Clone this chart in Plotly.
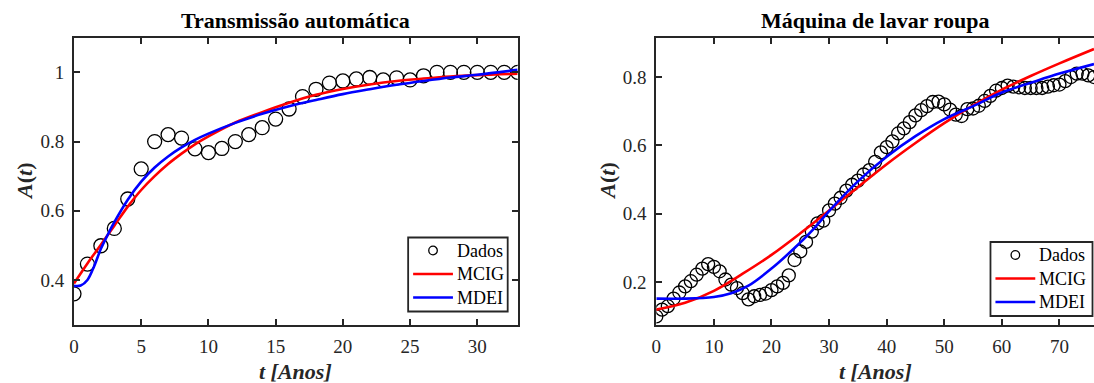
import plotly.graph_objects as go

# ---------------- Data: Transmissão automática ----------------
t_left = list(range(0, 34))
dados_left = [0.360, 0.446, 0.499, 0.549, 0.634, 0.721, 0.800, 0.820, 0.810, 0.779,
              0.768, 0.780, 0.800, 0.820, 0.840, 0.865, 0.894, 0.930, 0.951, 0.969,
              0.975, 0.981, 0.985, 0.978, 0.984, 0.978, 0.990, 1.000, 1.000, 1.000,
              1.000, 1.000, 1.000, 1.000]
t_mcig_left = [0, 1, 2, 3, 4, 5, 6, 7, 8, 9, 10, 12, 14, 16, 18, 20, 22, 24, 26, 28, 30, 33]
mcig_left = [0.390, 0.448, 0.502, 0.557, 0.612, 0.660, 0.700, 0.735, 0.765, 0.792, 0.815,
             0.855, 0.885, 0.912, 0.935, 0.952, 0.965, 0.975, 0.982, 0.988, 0.992, 0.996]
t_mdei_left = [0, 0.5, 1, 1.5, 2, 2.5, 3, 4, 5, 6, 7, 8, 9, 10, 12, 14, 16, 18, 20, 22, 24,
               26, 28, 30, 33]
mdei_left = [0.383, 0.384, 0.400, 0.440, 0.490, 0.530, 0.567, 0.632, 0.684, 0.725, 0.757,
             0.783, 0.805, 0.823, 0.854, 0.880, 0.902, 0.920, 0.937, 0.951, 0.964, 0.975,
             0.985, 0.993, 1.007]

# ---------------- Data: Máquina de lavar roupa ----------------
t_right = list(range(0, 77))
dados_right = [0.100, 0.120, 0.130, 0.152, 0.170, 0.188, 0.203, 0.222, 0.240, 0.253,
               0.245, 0.232, 0.208, 0.193, 0.183, 0.168, 0.150, 0.159, 0.163, 0.167,
               0.177, 0.188, 0.198, 0.220, 0.265, 0.290, 0.318, 0.348, 0.372, 0.380,
               0.410, 0.430, 0.447, 0.468, 0.485, 0.497, 0.515, 0.528, 0.552, 0.580,
               0.595, 0.612, 0.635, 0.650, 0.668, 0.688, 0.703, 0.715, 0.727, 0.728,
               0.720, 0.705, 0.690, 0.686, 0.706, 0.708, 0.716, 0.730, 0.745, 0.760,
               0.768, 0.775, 0.772, 0.770, 0.768, 0.768, 0.768, 0.768, 0.772, 0.776,
               0.778, 0.788, 0.800, 0.810, 0.810, 0.805, 0.800]
t_mcig_right = [0, 5, 10, 15, 20, 25, 30, 35, 40, 45, 50, 55, 60, 65, 70, 76]
mcig_right = [0.120, 0.140, 0.175, 0.225, 0.280, 0.343, 0.410, 0.478, 0.545, 0.607,
              0.665, 0.717, 0.763, 0.803, 0.840, 0.882]
t_mdei_right = [0, 5, 10, 13, 16, 20, 24, 27, 30, 35, 40, 45, 50, 55, 60, 65, 70, 76]
mdei_right = [0.152, 0.152, 0.157, 0.168, 0.190, 0.240, 0.300, 0.350, 0.408, 0.495,
              0.567, 0.627, 0.677, 0.715, 0.755, 0.783, 0.810, 0.838]

legend_labels = ["Dados", "MCIG", "MDEI"]
fit_colors = ["#FF0000", "#0000FF"]

OFF = 0  # body margin removed below
W, H = 1094, 383
FONT = "Liberation Serif"
AX = "#262626"


def px(x):
    return (x - OFF) / W


def py(y):
    return 1 - (y - OFF) / H


fig = go.Figure()


def add_panel(xa, ya, t, d, tm, m, tb, b, msize):
    fig.add_trace(go.Scatter(x=t, y=d, mode="markers", xaxis=xa, yaxis=ya,
                             name=legend_labels[0], showlegend=False,
                             marker=dict(symbol="circle-open", size=msize, color="black",
                                         line=dict(width=1.3, color="black"))))
    fig.add_trace(go.Scatter(x=tm, y=m, mode="lines", xaxis=xa, yaxis=ya,
                             name=legend_labels[1], showlegend=False,
                             line=dict(color=fit_colors[0], width=2.6, shape="spline")))
    fig.add_trace(go.Scatter(x=tb, y=b, mode="lines", xaxis=xa, yaxis=ya,
                             name=legend_labels[2], showlegend=False,
                             line=dict(color=fit_colors[1], width=2.6, shape="spline")))


add_panel("x", "y", t_left, dados_left, t_mcig_left, mcig_left,
          t_mdei_left, mdei_left, 14)
add_panel("x2", "y2", t_right, dados_right, t_mcig_right, mcig_right,
          t_mdei_right, mdei_right, 13)

ydom = [py(325), py(37.7)]
xdom1 = [px(69.3), px(515)]
xdom2 = [px(654.3), 1.0]

common = dict(showline=True, linecolor=AX, linewidth=1.8, ticks="inside", ticklen=6,
              tickwidth=1.5, tickcolor=AX, showgrid=False, zeroline=False,
              tickfont=dict(family=FONT, size=19, color=AX))

fig.update_layout(
    width=W, height=H, margin=dict(l=0, r=0, t=0, b=0), showlegend=False,
    paper_bgcolor="white", plot_bgcolor="white",
    xaxis=dict(domain=xdom1, range=[0, 33], tickvals=[0, 5, 10, 15, 20, 25, 30],
               mirror="ticks", anchor="y", ticklabelstandoff=3, **common),
    yaxis=dict(domain=ydom, range=[0.27, 1.1], tickvals=[0.4, 0.6, 0.8, 1],
               ticktext=["0.4", "0.6", "0.8", "1"], mirror="ticks", anchor="x",
               ticklabelstandoff=4, **common),
    xaxis2=dict(domain=xdom2, range=[0, 76], tickvals=[0, 10, 20, 30, 40, 50, 60, 70],
                mirror="ticks", anchor="y2", ticklabelstandoff=3, **common),
    yaxis2=dict(domain=ydom, range=[0.075, 0.915], tickvals=[0.2, 0.4, 0.6, 0.8],
                ticktext=["0.2", "0.4", "0.6", "0.8"], mirror=False, anchor="x2",
                ticklabelstandoff=4, **common),
)


def add_legend(left, right, top, bottom):
    fig.add_shape(type="rect", xref="paper", yref="paper", layer="above",
                  x0=px(left), x1=px(right), y0=py(bottom), y1=py(top),
                  fillcolor="white", line=dict(color=AX, width=1.8))
    rows = [top + 13, top + 36.5, top + 60]
    r = 4.3
    fig.add_shape(type="circle", xref="paper", yref="paper", layer="above",
                  x0=px(left + 25 - r), x1=px(left + 25 + r),
                  y0=py(rows[0] + r), y1=py(rows[0] - r),
                  line=dict(color="black", width=1.3))
    for i, c in enumerate(fit_colors):
        fig.add_shape(type="line", xref="paper", yref="paper", layer="above",
                      x0=px(left + 5), x1=px(left + 45), y0=py(rows[i + 1]), y1=py(rows[i + 1]),
                      line=dict(color=c, width=2.6))
    for i, lab in enumerate(legend_labels):
        fig.add_annotation(xref="paper", yref="paper", x=px(left + 47), y=py(rows[i]),
                           xanchor="left", yanchor="middle", showarrow=False, text=lab,
                           font=dict(family=FONT, size=18, color="black"))


add_legend(405, 505, 237.5, 311.5)
add_legend(990, 1092.5, 242, 316)

annots = [
    dict(text="<b>Transmissão automática</b>", x=(xdom1[0] + xdom1[1]) / 2, y=py(20.5),
         font=dict(size=22)),
    dict(text="<b>Máquina de lavar roupa</b>", x=(xdom2[0] + xdom2[1]) / 2, y=py(20.5),
         font=dict(size=22)),
    dict(text="<b><i>t [Anos]</i></b>", x=(xdom1[0] + xdom1[1]) / 2, y=py(371),
         font=dict(size=22, color=AX)),
    dict(text="<b><i>t [Anos]</i></b>", x=(xdom2[0] + xdom2[1]) / 2, y=py(371),
         font=dict(size=22, color=AX)),
    dict(text="<b><i>A</i>(<i>t</i>)</b>", x=px(19.5), y=py(181.5), textangle=-90,
         font=dict(size=22, color=AX)),
    dict(text="<b><i>A</i>(<i>t</i>)</b>", x=px(605), y=py(181.5), textangle=-90,
         font=dict(size=22, color=AX)),
]
for a in annots:
    f = dict(family=FONT, color="black")
    f.update(a.pop("font"))
    fig.add_annotation(xref="paper", yref="paper", xanchor="center", yanchor="middle",
                       showarrow=False, font=f, **a)

fig.write_html("out.html", default_width=f"{W}px", default_height=f"{H}px",
               config={"displayModeBar": False},
               post_script="document.body.style.margin='0px';"
                           "document.body.style.overflow='hidden';")
